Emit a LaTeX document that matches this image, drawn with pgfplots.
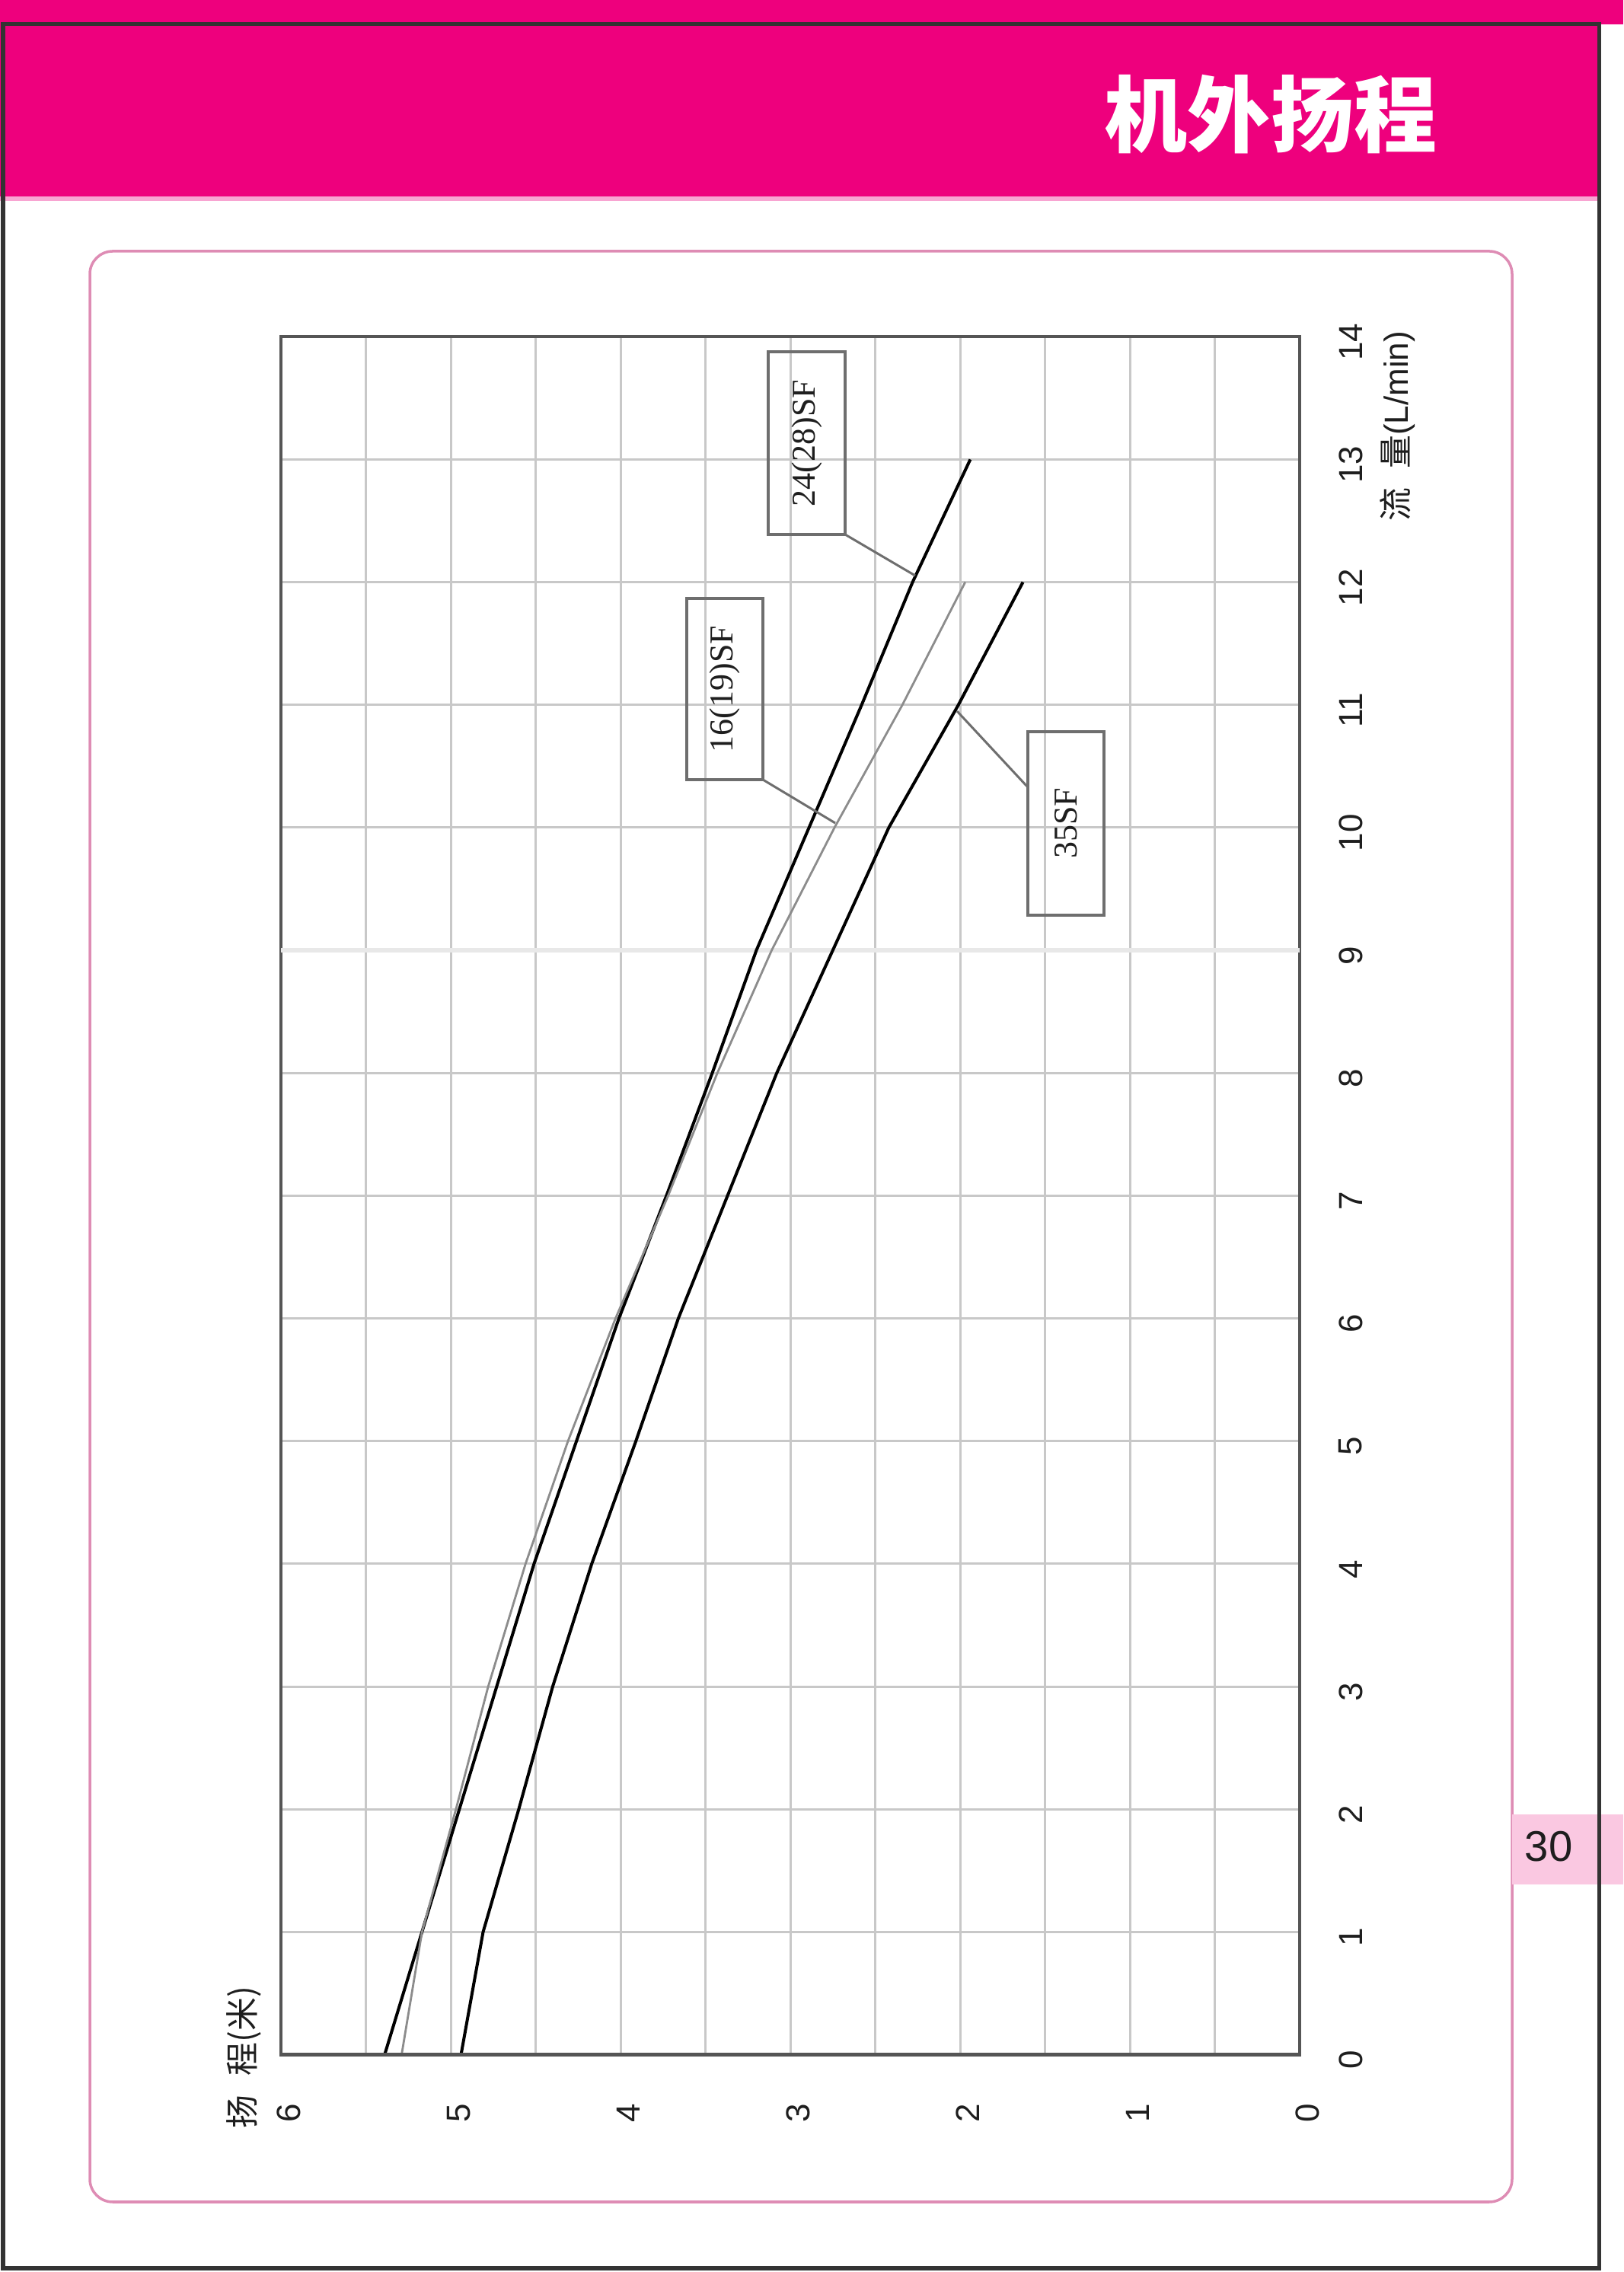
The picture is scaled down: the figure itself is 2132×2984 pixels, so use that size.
\documentclass[border=0pt]{standalone}
\usepackage{fontspec}
\setmainfont{Liberation Serif}
\setsansfont{Liberation Sans}
\newfontfamily\cjk{Noto Sans CJK SC}
\usepackage{pgfplots}
\pgfplotsset{compat=1.18}

\definecolor{bandmag}{RGB}{238,0,125}
\definecolor{bandedge}{RGB}{248,165,210}
\definecolor{framepink}{RGB}{222,140,180}
\definecolor{tabpink}{RGB}{250,200,225}
\definecolor{gridgray}{RGB}{200,200,200}
\definecolor{framegray}{RGB}{85,85,85}
\definecolor{boxgray}{RGB}{110,110,110}
\definecolor{txt}{RGB}{30,30,30}

\newcommand{\ticksize}{\fontsize{12.5}{15}\selectfont}

\begin{document}
\begin{tikzpicture}
% page background, 1 unit = 0.1 mm, y down
\begin{scope}[shift={(0,29.84cm)}, x=0.01cm, y=-0.01cm]
  \path[use as bounding box] (0,0) rectangle (2132,2984);
  \fill[white] (0,0) rectangle (2132,2984);
  \fill[bandmag] (0,0) rectangle (2132,32);
  \fill[bandmag] (0,32) rectangle (2100,258);
  \fill[bandedge] (0,258) rectangle (2100,264);
  \node[text=white, font=\cjk\bfseries\fontsize{31}{34}\selectfont] at (1669,150) {机外扬程};
  \draw[framepink, line width=0.35mm, rounded corners=3mm] (118,330) rectangle (1986,2892);
  \fill[tabpink] (1986,2383) rectangle (2132,2475);
  \node[text=txt, font=\sffamily\fontsize{16}{18}\selectfont] at (2034,2425) {30};
  \draw[black!80, line width=0.5mm] (4,32) rectangle (2100,2979);
\end{scope}

\begin{axis}[
    at={(3.69cm,2.87cm)}, anchor=south west,
    scale only axis, width=13.37cm, height=22.55cm,
    xmin=0, xmax=6, ymin=0, ymax=14,
    x dir=reverse,
    xtick={0,...,6}, minor xtick={0.5,1.5,...,5.5},
    ytick={0,...,14},
    grid=both,
    major grid style={draw=gridgray, line width=0.3mm},
    minor grid style={draw=gridgray, line width=0.3mm},
    extra y ticks={9}, extra y tick labels={},
    extra y tick style={grid=major, major grid style={draw=black!9, line width=0.6mm}},
    major tick length=0pt, minor tick length=0pt,
    axis line style={draw=framegray, line width=0.4mm},
    yticklabel pos=right,
    /pgf/number format/assume math mode=true,
    xticklabel style={font=\sffamily\ticksize, text=txt, anchor=center, xshift=1mm, yshift=-7.7mm, rotate=90},
    yticklabel style={font=\sffamily\ticksize, text=txt, anchor=center, xshift=6.7mm, yshift=-0.7mm, rotate=90},
  ]
  % 24(28)SF
  \addplot[black, line width=0.4mm] coordinates {
    (5.39,0) (5.17,1) (4.95,2) (4.73,3) (4.51,4) (4.26,5) (4.01,6)
    (3.73,7) (3.46,8) (3.20,9) (2.89,10) (2.58,11) (2.28,12) (1.94,13)};
  % 16(19)SF
  \addplot[black!45, line width=0.28mm] coordinates {
    (5.29,0) (5.17,1) (4.97,2) (4.78,3) (4.56,4) (4.31,5) (4.03,6)
    (3.72,7) (3.43,8) (3.11,9) (2.74,10) (2.34,11) (1.97,12)};
  % 35SF
  \addplot[black, line width=0.4mm] coordinates {
    (4.94,0) (4.81,1) (4.60,2) (4.40,3) (4.17,4) (3.91,5) (3.66,6)
    (3.37,7) (3.08,8) (2.75,9) (2.42,10) (2.01,11) (1.63,12)};
  \draw[framegray, line width=0.6mm] (rel axis cs:0,0) -- (rel axis cs:1,0);
\end{axis}

% labels, boxes and leaders
\begin{scope}[shift={(0,29.84cm)}, x=0.01cm, y=-0.01cm]
  \node[rotate=90, text=txt, font=\ticksize, inner sep=0pt] at (1836,560)
    {{\cjk 流\hspace{2.5mm}量}{\sffamily(L/min)}};
  \node[rotate=90, text=txt, font=\ticksize, inner sep=0pt] at (320,2702)
    {{\cjk 扬\hspace{2.5mm}程(米)}};
  \draw[boxgray, line width=0.35mm] (1009,462) rectangle (1110,702);
  \node[rotate=90, text=txt, font=\fontsize{12.5}{15}\selectfont] at (1059.5,582) {24(28)SF};
  \draw[boxgray, line width=0.3mm] (1110,702) -- (1202,756);
  \draw[boxgray, line width=0.35mm] (902,786) rectangle (1002,1024);
  \node[rotate=90, text=txt, font=\fontsize{12.5}{15}\selectfont] at (952,905) {16(19)SF};
  \draw[boxgray, line width=0.3mm] (1002,1024) -- (1097,1081);
  \draw[boxgray, line width=0.35mm] (1350,961) rectangle (1450,1202);
  \node[rotate=90, text=txt, font=\fontsize{12.5}{15}\selectfont] at (1400,1081.5) {35SF};
  \draw[boxgray, line width=0.3mm] (1257,934) -- (1350,1034);
\end{scope}
\end{tikzpicture}
\end{document}
